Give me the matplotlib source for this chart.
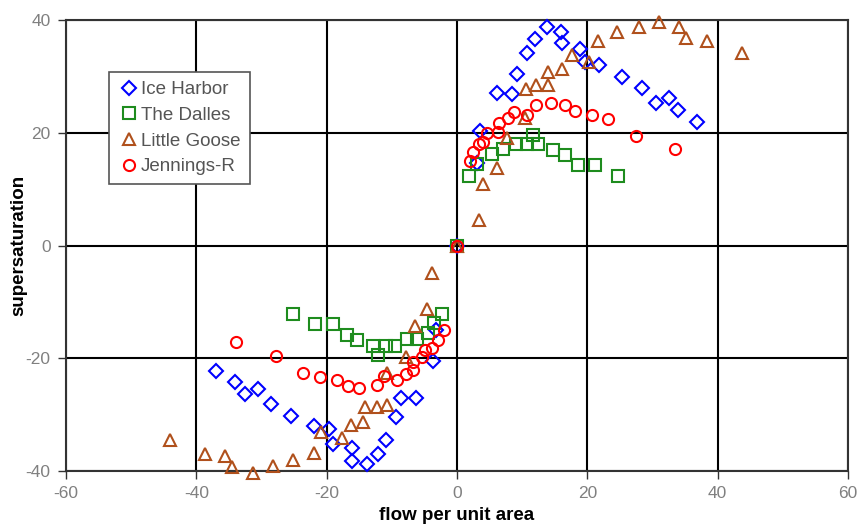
import numpy as np
import matplotlib.pyplot as plt

plt.rcParams['font.family'] = ['Liberation Sans', 'DejaVu Sans']
plt.rcParams['axes.unicode_minus'] = False

# Ice Harbor
ih_x = [0, 3.5, 3.1, 6.2, 8.4, 9.2, 10.8, 12.0, 13.8, 15.9, 16.1, 18.9, 19.6, 21.8, 25.3, 28.4, 30.5, 32.6, 33.9, 36.9,
        -37.0, -34.1, -32.6, -30.6, -28.6, -25.4, -21.9, -19.6, -19.1, -16.1, -16.1, -13.8, -12.1, -10.9, -9.3, -8.6, -6.3, -3.7, -3.2]
ih_y = [0, 20.4, 14.6, 27.0, 26.9, 30.4, 34.2, 36.6, 38.7, 37.9, 35.9, 34.8, 32.6, 32.0, 29.9, 27.9, 25.3, 26.1, 24.0, 22.0,
        -22.2, -24.3, -26.4, -25.5, -28.1, -30.2, -32.1, -32.6, -35.2, -36.0, -38.2, -38.8, -36.9, -34.5, -30.4, -27.1, -27.1, -20.4, -15.0]

# The Dalles
td_x = [0, 1.9, 3.1, 5.3, 7.1, 9.1, 10.7, 11.6, 12.4, 14.8, 16.5, 18.6, 21.2, 24.7,
        -25.2, -21.8, -19.1, -16.9, -15.4, -12.9, -12.1, -10.9, -9.5, -7.7, -6.2, -4.4, -3.6, -2.3]
td_y = [0, 12.3, 14.5, 16.2, 17.1, 18.0, 18.1, 19.6, 18.1, 16.9, 16.1, 14.2, 14.2, 12.3,
        -12.2, -13.9, -13.9, -15.9, -16.8, -17.9, -19.4, -17.9, -17.9, -16.6, -16.5, -15.6, -13.8, -12.2]

# Little Goose
lg_x = [0, 3.4, 4.0, 6.2, 7.6, 10.4, 10.6, 12.2, 14.0, 14.0, 16.1, 17.6, 20.3, 21.7, 24.5, 28.0, 31.0, 34.1, 35.2, 38.3, 43.7,
        -3.8, -4.6, -6.4, -7.8, -10.7, -10.7, -12.3, -14.1, -14.4, -16.2, -17.7, -20.8, -22.0, -25.1, -28.3, -31.3, -34.6, -35.6, -38.7, -44.0]
lg_y = [0, 4.6, 10.9, 13.7, 19.0, 22.6, 27.7, 28.5, 28.5, 30.8, 31.4, 33.8, 32.6, 36.2, 37.8, 38.8, 39.7, 38.8, 36.9, 36.2, 34.1,
        -4.9, -11.3, -14.3, -19.7, -22.7, -28.3, -28.7, -28.7, -31.3, -31.8, -34.2, -33.0, -36.8, -38.1, -39.2, -40.3, -39.3, -37.3, -36.9, -34.5]

# Jennings-R
jr_x = [0, 2.0, 2.5, 3.4, 4.0, 4.6, 6.3, 6.5, 7.9, 8.7, 10.8, 12.1, 14.5, 16.6, 18.1, 20.7, 23.2, 27.4, 33.5,
        -33.9, -27.8, -23.7, -21.0, -18.4, -16.8, -15.0, -12.3, -11.2, -9.2, -7.8, -6.7, -6.7, -5.4, -4.9, -3.9, -2.9, -2.0]
jr_y = [0, 15.0, 16.6, 18.1, 18.4, 19.9, 20.2, 21.7, 22.7, 23.7, 23.1, 24.9, 25.2, 24.9, 23.9, 23.1, 22.4, 19.5, 17.1,
        -17.2, -19.6, -22.6, -23.3, -23.9, -24.9, -25.3, -24.7, -23.1, -23.9, -22.8, -22.1, -20.6, -19.7, -18.5, -18.2, -16.8, -14.9]

fig = plt.figure(figsize=(8.59, 5.28), dpi=100)
ax = fig.add_axes([0.0768, 0.108, 0.9104, 0.854])

ms = 8
mew = 1.5
ax.plot(ih_x, ih_y, 'D', ms=7, mfc='none', mec='#0000ff', mew=mew, ls='none', label='Ice Harbor', zorder=3, clip_on=False)
ax.plot(td_x, td_y, 's', ms=ms, mfc='none', mec='#1e8c1e', mew=mew, ls='none', label='The Dalles', zorder=3, clip_on=False)
ax.plot(lg_x, lg_y, '^', ms=ms + 1, mfc='none', mec='#b0501c', mew=mew, ls='none', label='Little Goose', zorder=3, clip_on=False)
ax.plot(jr_x, jr_y, 'o', ms=ms, mfc='none', mec='#ff0000', mew=mew, ls='none', label='Jennings-R', zorder=3, clip_on=False)

ax.set_xlim(-60, 60)
ax.set_ylim(-40, 40)
ax.set_xticks(np.arange(-60, 61, 20))
ax.set_yticks(np.arange(-40, 41, 20))
ax.grid(True, color='black', lw=1.5)
ax.set_axisbelow(True)
for s in ax.spines.values():
    s.set_color('#333333')
    s.set_linewidth(1.5)
ax.tick_params(colors='#333333', labelcolor='#808080', labelsize=12.5, length=6, width=1, pad=5)

ax.set_xlabel('flow per unit area', fontsize=13.5, fontweight='bold', labelpad=4)
ax.set_ylabel('supersaturation', fontsize=13.5, fontweight='bold', labelpad=-1)

leg = ax.legend(loc='upper left', bbox_to_anchor=(0.055, 0.885), fontsize=13.5, frameon=True, fancybox=False,
                handletextpad=0.1, handlelength=1.1, borderpad=0.5, labelspacing=0.45, borderaxespad=0)
leg.get_frame().set_edgecolor('#555555')
leg.get_frame().set_linewidth(1.2)
leg.get_frame().set_alpha(1)
for t in leg.get_texts():
    t.set_color('#555555')

fig.savefig('out.png', dpi=100)
